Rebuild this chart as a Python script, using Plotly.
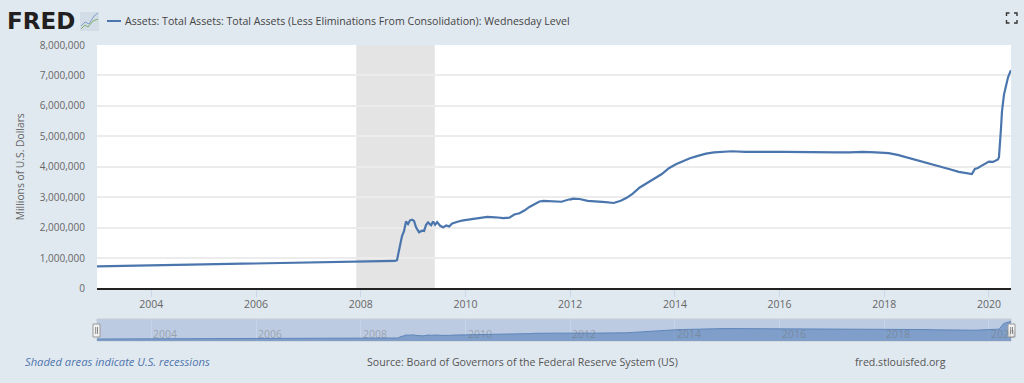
import plotly.graph_objects as go

dates = ["2002-12-18","2003-03-05","2003-06-04","2003-09-03","2003-12-03","2004-03-03","2004-06-02","2004-09-01","2004-12-01",
"2005-03-02","2005-06-01","2005-09-07","2005-12-07","2006-03-01","2006-06-07","2006-09-06","2006-12-06","2007-03-07","2007-06-06","2007-09-05","2007-12-05",
"2008-03-05","2008-06-04","2008-08-27","2008-09-10","2008-09-17","2008-09-24","2008-10-01","2008-10-15","2008-10-29","2008-11-12","2008-11-26","2008-12-10","2008-12-24","2009-01-07","2009-01-21","2009-02-11","2009-03-04","2009-03-18","2009-04-01","2009-04-15","2009-05-06","2009-05-20","2009-06-03","2009-06-17","2009-07-08","2009-07-29","2009-08-19","2009-09-09","2009-09-30","2009-10-21","2009-11-18","2009-12-16",
"2010-01-20","2010-03-03","2010-04-14","2010-06-02","2010-07-28","2010-09-22","2010-11-03","2010-12-08","2011-01-12","2011-02-16","2011-03-23","2011-04-27","2011-06-01","2011-06-29","2011-08-03","2011-09-14","2011-11-02","2011-12-28","2012-01-04","2012-01-18","2012-03-07","2012-05-02","2012-07-04","2012-09-05","2012-10-31","2012-12-19",
"2013-01-30","2013-03-13","2013-05-01","2013-06-26","2013-08-14","2013-10-02","2013-11-20","2014-01-08","2014-02-26","2014-04-16","2014-06-04","2014-08-06","2014-10-01","2014-12-03","2015-02-04","2015-05-06","2015-08-05","2015-11-04","2016-02-03","2016-05-04","2016-08-03","2016-11-02","2017-02-01","2017-05-03","2017-08-02","2017-11-01","2018-01-31","2018-04-04","2018-06-06","2018-08-08","2018-10-10","2018-12-12","2019-02-06","2019-04-03","2019-06-05","2019-08-07","2019-09-04","2019-09-25","2019-10-16","2019-11-06","2019-12-04","2020-01-01","2020-01-29","2020-02-26","2020-03-04","2020-03-11","2020-03-18","2020-03-25","2020-04-01","2020-04-08","2020-04-15","2020-04-29","2020-05-13","2020-05-27","2020-06-03"]
assets = [728000,735000,742000,750000,755000,762000,770000,778000,790000,
805000,815000,820000,825000,830000,838000,842000,848000,855000,868000,870000,880000,
890000,900000,905000,930000,1090000,1290000,1500000,1720000,1880000,2200000,2120000,2240000,2260000,2220000,2010000,1850000,1900000,1890000,2090000,2170000,2080000,2200000,2090000,2180000,2060000,2010000,2070000,2040000,2140000,2160000,2210000,2240000,
2260000,2290000,2330000,2350000,2340000,2310000,2330000,2430000,2470000,2560000,2680000,2780000,2860000,2880000,2870000,2860000,2850000,2930000,2920000,2950000,2940000,2880000,2870000,2840000,2810000,2880000,
2980000,3120000,3320000,3470000,3620000,3760000,3950000,4080000,4180000,4280000,4350000,4430000,4470000,4500000,4510000,4490000,4480000,4490000,4490000,4480000,4490000,4480000,4470000,4470000,4490000,4470000,4450000,4390000,4310000,4240000,4160000,4070000,3990000,3920000,3830000,3780000,3760000,3930000,3960000,4020000,4100000,4170000,4160000,4220000,4240000,4310000,4670000,5250000,5810000,6080000,6370000,6650000,6930000,7100000,7170000]

year_ticks = ["2004-01-01","2006-01-01","2008-01-01","2010-01-01","2012-01-01","2014-01-01","2016-01-01","2018-01-01","2020-01-01"]
year_labels = ["2004","2006","2008","2010","2012","2014","2016","2018","2020"]
y_ticks = [0,1000000,2000000,3000000,4000000,5000000,6000000,7000000,8000000]
x_range = ["2002-12-18","2020-06-03"]
recession = ("2007-12-01","2009-06-01")
series_name = "Assets: Total Assets: Total Assets (Less Eliminations From Consolidation): Wednesday Level"

W, H = 1024, 383
def px(v): return v / W
def py(v): return 1 - v / H

BG = "#e1e9f0"
BLUE = "#4a76ad"
FONT = "Open Sans"

fig = go.Figure()
fig.add_trace(go.Scatter(x=dates, y=assets, mode="lines", line=dict(color=BLUE, width=2.2), name=series_name,
                         xaxis="x", yaxis="y", showlegend=False, hoverinfo="x+y"))
fig.add_trace(go.Scatter(x=dates, y=assets, mode="lines", line=dict(color="#5f86bb", width=1), fill="tozeroy",
                         fillcolor="rgba(90,130,185,0.62)", xaxis="x2", yaxis="y2", showlegend=False, hoverinfo="skip"))

shapes = [
    dict(type="rect", xref="x", yref="paper", x0=recession[0], x1=recession[1], y0=py(288.5), y1=py(45),
         fillcolor="#e4e4e4", line_width=0, layer="below"),
    dict(type="rect", xref="paper", yref="paper", x0=px(97), x1=px(1011), y0=py(341), y1=py(319),
         fillcolor="#bccbe2", line=dict(color="#c6ccd4", width=1), layer="below"),
    dict(type="line", xref="paper", yref="paper", x0=px(107), x1=px(121), y0=py(21), y1=py(21), line=dict(color=BLUE, width=2)),
    dict(type="rect", xref="paper", yref="paper", x0=px(80), x1=px(99), y0=py(31), y1=py(12), fillcolor="#d3dde8", line_width=0),
    dict(type="path", xref="paper", yref="paper",
         path=f"M {px(81)} {py(29)} L {px(85)} {py(25)} L {px(88)} {py(27)} L {px(93)} {py(21)} L {px(98)} {py(19)}",
         line=dict(color="#7fae6a", width=1)),
    dict(type="path", xref="paper", yref="paper",
         path=f"M {px(81)} {py(26)} L {px(85)} {py(22)} L {px(89)} {py(24)} L {px(94)} {py(16)} L {px(98)} {py(13)}",
         line=dict(color="#7f9fc6", width=1)),
    dict(type="rect", xref="paper", yref="paper", x0=px(93), x1=px(100), y0=py(337), y1=py(324),
         fillcolor="#f2f2f2", line=dict(color="#999999", width=1)),
    dict(type="rect", xref="paper", yref="paper", x0=px(1008), x1=px(1015), y0=py(337), y1=py(324),
         fillcolor="#f2f2f2", line=dict(color="#999999", width=1)),
]
for hx in (95.7, 97.5, 1010.7, 1012.5):
    shapes.append(dict(type="line", xref="paper", yref="paper", x0=px(hx), x1=px(hx), y0=py(334), y1=py(327),
                       line=dict(color="#888888", width=1)))
cx0, cx1, cy0, cy1 = 1006.5, 1017, 13, 23
for (a, b, sx, sy) in ((cx0, cy0, 1, 1), (cx1, cy0, -1, 1), (cx0, cy1, 1, -1), (cx1, cy1, -1, -1)):
    shapes.append(dict(type="path", xref="paper", yref="paper",
                       path=f"M {px(a+3*sx)} {py(b)} L {px(a)} {py(b)} L {px(a)} {py(b+3*sy)}",
                       line=dict(color="#333333", width=1.4)))

annotations = [
    dict(text="<b>FRED</b>", xref="paper", yref="paper", x=px(5), y=py(21), xanchor="left", yanchor="middle",
         showarrow=False, font=dict(family="DejaVu Sans", size=23, color="#231f20")),
    dict(text=series_name, xref="paper", yref="paper", x=px(123), y=py(21), xanchor="left", yanchor="middle",
         showarrow=False, font=dict(family=FONT, size=10.6, color="#444444")),
    dict(text="<i>Shaded areas indicate U.S. recessions</i>", xref="paper", yref="paper", x=px(23), y=py(361.5), xanchor="left",
         yanchor="middle", showarrow=False, font=dict(family=FONT, size=11.2, color="#4f75ad")),
    dict(text="Source: Board of Governors of the Federal Reserve System (US)", xref="paper", yref="paper", x=px(365), y=py(361.5),
         xanchor="left", yanchor="middle", showarrow=False, font=dict(family=FONT, size=10.6, color="#555555")),
    dict(text="fred.stlouisfed.org", xref="paper", yref="paper", x=px(853), y=py(361.5), xanchor="left", yanchor="middle",
         showarrow=False, font=dict(family=FONT, size=10.6, color="#555555")),
]
for t, lab in zip(year_ticks, year_labels):
    annotations.append(dict(text=lab, xref="x2", yref="paper", x=t, y=py(334), xanchor="center", yanchor="middle", xshift=14,
                            showarrow=False, font=dict(family=FONT, size=10.5, color="rgba(110,110,110,0.45)")))

fig.update_layout(
    width=W, height=H, autosize=False,
    paper_bgcolor=BG, plot_bgcolor="#ffffff",
    margin=dict(l=0, r=0, t=0, b=0, pad=0, autoexpand=False),
    font=dict(family=FONT, color="#666666", size=10),
    shapes=shapes, annotations=annotations, showlegend=False,
    xaxis=dict(domain=[px(97), px(1011)], range=x_range, type="date", tickvals=year_ticks, ticktext=year_labels,
               ticks="outside", ticklen=7, tickcolor="#ccd6eb", tickwidth=1, showgrid=False, zeroline=False,
               ticklabelstandoff=-1, showline=False, anchor="y", tickfont=dict(family=FONT, size=10.5, color="#666666")),
    yaxis=dict(domain=[py(288.5), py(45)], range=[0, 8000000], tickvals=y_ticks, tickformat=",d",
               gridcolor="#ececec", gridwidth=1.5, zeroline=True, zerolinecolor="#222222", zerolinewidth=2,
               ticks="", ticklabelstandoff=11, anchor="x",
               title=dict(text="Millions of U.S. Dollars", font=dict(family=FONT, size=10.3, color="#666666"), standoff=13),
               tickfont=dict(family=FONT, size=10, color="#666666")),
    xaxis2=dict(domain=[px(97), px(1011)], range=x_range, type="date", tickvals=year_ticks, showticklabels=False,
                showgrid=True, gridcolor="rgba(255,255,255,0.18)", zeroline=False, ticks="", anchor="y2"),
    yaxis2=dict(domain=[py(341), py(319)], range=[0, 8000000], showticklabels=False, showgrid=False, zeroline=False,
                ticks="", anchor="x2"),
)

fig.write_html("out.html", config=dict(displayModeBar=False),
               post_script="document.body.style.margin='0';document.body.style.overflow='hidden';")
